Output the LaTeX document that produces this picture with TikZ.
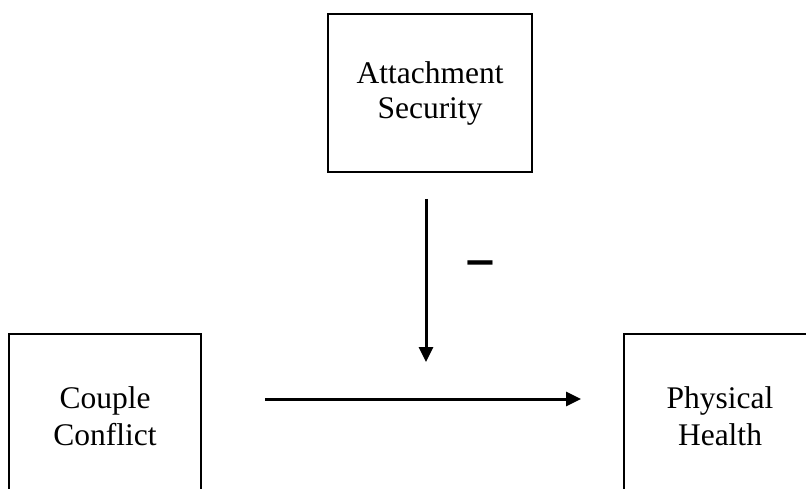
\documentclass[tikz,border=0pt]{standalone}
\usepackage{graphicx}
\usepackage{fontspec}
\setmainfont{Liberation Serif}
\newfontfamily\signfont{DejaVu Sans}
\usetikzlibrary{arrows.meta,calc}

\begin{document}
\begin{tikzpicture}[x=1pt,y=1pt,font=\fontsize{31.5}{37}\selectfont,
    box/.style={draw,line width=2pt,align=center,inner sep=0pt},
    arr/.style={line width=3pt,-{Triangle[length=15pt,width=14pt]}}]
\clip (0,0) rectangle (806,488);
\node[box,minimum width=204pt,minimum height=158pt] (security) at (430,395) {Attachment\\[-2pt]Security};
\node[box,minimum width=192pt,minimum height=164pt] (conflict) at (105,72) {Couple\\Conflict};
\node[box,minimum width=192pt,minimum height=164pt] (health) at (720,72) {Physical\\Health};
\coordinate (start) at ($(conflict.east)+(63,17)$);
\coordinate (stop) at ($(health.west)+(-42,17)$);
\draw[arr] (start) -- (stop);
\coordinate (top) at ($(security.south)+(-4,-26)$);
\draw[arr] (top) -- ($(top |- stop)+(0,37)$);
\node (sign) at (480,221) {\scalebox{1.1}[0.6]{\signfont\bfseries\fontsize{58}{58}\selectfont –}};
\end{tikzpicture}
\end{document}
